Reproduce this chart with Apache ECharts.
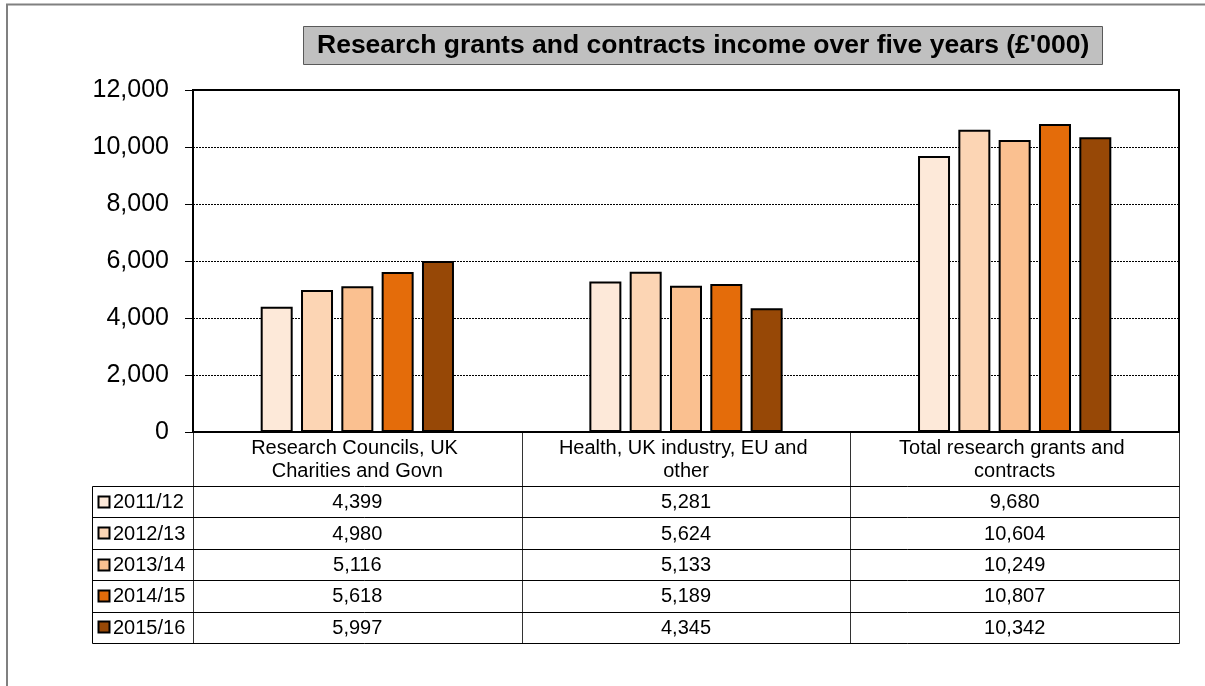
<!DOCTYPE html>
<html>
<head>
<meta charset="utf-8">
<script src="https://cdn.jsdelivr.net/npm/echarts@6/dist/echarts.min.js"></script>
<style>
html,body{margin:0;padding:0;background:#fff;}
#chart{width:1205px;height:686px;}
</style>
</head>
<body>
<div id="chart"></div>
<script>
const titleText = "Research grants and contracts income over five years (£'000)";
const categories = ['Research Councils, UK Charities and Govn', 'Health, UK industry, EU and other', 'Total research grants and contracts'];
const seriesNames = ['2011/12', '2012/13', '2013/14', '2014/15', '2015/16'];
const v2011 = [4399, 5281, 9680];
const v2012 = [4980, 5624, 10604];
const v2013 = [5116, 5133, 10249];
const v2014 = [5618, 5189, 10807];
const v2015 = [5997, 4345, 10342];
const seriesValues = [v2011, v2012, v2013, v2014, v2015];
const colors = ['#FDE9D9', '#FCD5B4', '#FAC090', '#E46C0A', '#974806'];
const yMin = 0, yMax = 12000, yStep = 2000;

const FONT = '"Liberation Sans", Arial, sans-serif';
const fmt = v => v.toLocaleString('en-US');

const chart = echarts.init(document.getElementById('chart'), null, {renderer: 'canvas'});

chart.setOption({
  animation: false,
  backgroundColor: '#fff',
  title: {
    text: titleText,
    left: 303,
    top: 26,
    padding: [6, 14, 6, 14],
    backgroundColor: '#C0C0C0',
    borderColor: '#595959',
    borderWidth: 1,
    textStyle: {fontFamily: FONT, fontSize: 26.5, fontWeight: 'bold', color: '#000', lineHeight: 27}
  },
  grid: {
    left: 193, right: 26, top: 90, bottom: 254,
    show: true, borderColor: '#000', borderWidth: 2, backgroundColor: 'transparent'
  },
  xAxis: {
    type: 'category',
    data: categories,
    axisLine: {show: true, lineStyle: {color: '#000', width: 2}},
    axisTick: {show: false},
    axisLabel: {
      interval: 0, margin: 5, color: '#000', fontFamily: FONT, fontSize: 20, lineHeight: 23,
      width: 270, overflow: 'break', align: 'center', verticalAlign: 'top'
    },
    splitLine: {show: false}
  },
  yAxis: {
    type: 'value',
    min: yMin, max: yMax, interval: yStep,
    axisLine: {show: true, lineStyle: {color: '#000', width: 2}},
    axisTick: {show: true, length: 8, lineStyle: {color: '#000', width: 1}},
    axisLabel: {color: '#000', fontFamily: FONT, fontSize: 25, margin: 24, formatter: v => fmt(v)},
    splitLine: {show: true, lineStyle: {color: '#000', width: 1, type: [2, 1]}}
  },
  series: seriesNames.map((name, i) => ({
    name: name,
    type: 'bar',
    data: seriesValues[i],
    barWidth: 32,
    barGap: '26%',
    itemStyle: {color: colors[i], borderColor: '#000', borderWidth: 2}
  }))
});

// Data table under the chart, positioned from the chart's own axes
function drawTable() {
  const c0 = chart.convertToPixel({xAxisIndex: 0}, 0);
  const c1 = chart.convertToPixel({xAxisIndex: 0}, 1);
  const step = c1 - c0;
  const yBase = chart.convertToPixel({yAxisIndex: 0}, 0);
  const left = c0 - step / 2;
  const right = left + step * categories.length;
  const legendLeft = left - 101;
  const headerH = 54;
  const rowH = 31.4;
  const tableTop = yBase + headerH;
  const tableBottom = tableTop + rowH * seriesNames.length;
  const r = v => Math.round(v) + 0.5;
  const g = [];
  const line = (x1, y1, x2, y2, color) => g.push({
    type: 'line', silent: true,
    shape: {x1: x1, y1: y1, x2: x2, y2: y2},
    style: {stroke: color || '#000', lineWidth: 1}
  });
  for (let i = 0; i <= categories.length; i++) {
    const x = r(left + i * step);
    line(x, yBase, x, r(tableBottom), '#333');
  }
  line(r(legendLeft), r(tableTop), r(legendLeft), r(tableBottom));
  for (let j = 0; j <= seriesNames.length; j++) {
    const y = r(tableTop + j * rowH);
    line(r(legendLeft), y, r(right), y);
  }
  seriesNames.forEach((name, j) => {
    const cy = tableTop + (j + 0.5) * rowH;
    g.push({
      type: 'rect', silent: true,
      shape: {x: legendLeft + 6.5, y: Math.round(cy) - 5.5, width: 11, height: 11},
      style: {fill: colors[j], stroke: '#000', lineWidth: 2}
    });
    g.push({
      type: 'text', silent: true,
      style: {text: name, x: legendLeft + 21, y: cy + 1, font: '20px ' + FONT, fill: '#000', textAlign: 'left', textVerticalAlign: 'middle'}
    });
    seriesValues[j].forEach((v, k) => {
      g.push({
        type: 'text', silent: true,
        style: {text: fmt(v), x: left + (k + 0.5) * step, y: cy + 1, font: '20px ' + FONT, fill: '#000', textAlign: 'center', textVerticalAlign: 'middle'}
      });
    });
  });
  g.push({
    type: 'polyline', silent: true,
    shape: {points: [[7, 686], [7, 4.5], [1205, 4.5]]},
    style: {stroke: '#808080', lineWidth: 2, fill: null}
  });
  chart.setOption({graphic: g});
}
drawTable();
</script>
</body>
</html>
